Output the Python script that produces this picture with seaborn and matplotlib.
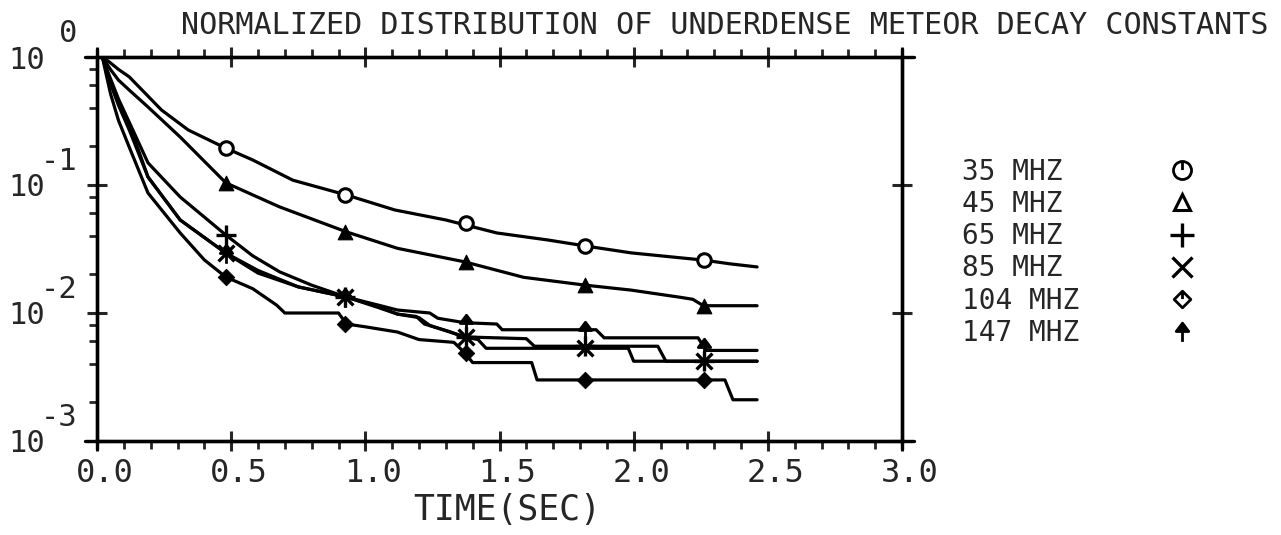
"""
Normalized distribution of underdense meteor decay constants
Re-drawn as a seaborn / matplotlib figure -> out.png
"""

import numpy as np
import pandas as pd
import matplotlib
matplotlib.use("Agg")
import matplotlib.pyplot as plt
import matplotlib.transforms as mtransforms
from matplotlib.path import Path
from matplotlib.lines import Line2D
from matplotlib.ticker import MultipleLocator, LogLocator, NullFormatter, FormatStrFormatter
import seaborn as sns

sns.set_style("ticks")
plt.rcParams.update({
    "font.family": ["DejaVu Sans Mono", "DejaVu Sans"],
    "axes.linewidth": 2.4,
    "xtick.major.width": 2.2,
    "ytick.major.width": 2.2,
    "xtick.minor.width": 2.0,
    "ytick.minor.width": 2.0,
})

# ==================== Data ====================
FREQ_LABELS = ["35 MHZ", "45 MHZ", "65 MHZ", "85 MHZ", "104 MHZ", "147 MHZ"]

T_35 = [0.02, 0.05, 0.08, 0.12, 0.18, 0.24, 0.34, 0.48, 0.58, 0.73, 0.93, 1.11, 1.30, 1.49, 1.68, 1.82, 1.99,
        2.26, 2.36, 2.46]
V_35 = [1.0, 0.90, 0.80, 0.70, 0.52, 0.386, 0.269, 0.194, 0.157, 0.109, 0.0835, 0.0638, 0.0533, 0.0422, 0.0372,
        0.0334, 0.0295, 0.0259, 0.0242, 0.0229]

T_45 = [0.02, 0.05, 0.08, 0.12, 0.19, 0.31, 0.48, 0.68, 0.93, 1.12, 1.37, 1.59, 1.82, 1.99, 2.17, 2.22, 2.26, 2.46]
V_45 = [1.0, 0.80, 0.66, 0.552, 0.407, 0.237, 0.104, 0.0675, 0.043, 0.032, 0.0251, 0.019, 0.0165, 0.0151, 0.0133,
        0.0128, 0.0114, 0.0114]

T_65 = [0.02, 0.035, 0.05, 0.08, 0.12, 0.19, 0.31, 0.48, 0.58, 0.68, 0.80, 0.93, 1.05, 1.12, 1.20, 1.24, 1.37,
        1.60, 1.63, 2.09, 2.12, 2.46]
V_65 = [1.0, 0.82, 0.68, 0.47, 0.31, 0.149, 0.0806, 0.0407, 0.028, 0.021, 0.0165, 0.0133, 0.0110, 0.0098, 0.0092,
        0.0080, 0.0065, 0.0063, 0.0055, 0.0055, 0.0042, 0.0042]

T_85 = [0.02, 0.035, 0.05, 0.08, 0.12, 0.19, 0.31, 0.48, 0.60, 0.75, 0.93, 1.05, 1.12, 1.19, 1.22, 1.31, 1.37,
        1.42, 1.45, 1.98, 2.00, 2.46]
V_85 = [1.0, 0.78, 0.62, 0.42, 0.27, 0.1155, 0.0533, 0.0294, 0.0215, 0.0160, 0.0133, 0.0112, 0.0098, 0.0094,
        0.0082, 0.0072, 0.0065, 0.0062, 0.0053, 0.0053, 0.0042, 0.0042]

T_104 = [0.02, 0.035, 0.05, 0.08, 0.12, 0.19, 0.31, 0.40, 0.48, 0.58, 0.67, 0.70, 0.90, 0.93, 1.00, 1.12, 1.20,
         1.33, 1.37, 1.40, 1.62, 1.64, 2.34, 2.37, 2.46]
V_104 = [1.0, 0.72, 0.52, 0.32, 0.198, 0.0866, 0.0422, 0.026, 0.0191, 0.0155, 0.0115, 0.0100, 0.0100, 0.0082,
         0.0078, 0.0071, 0.0062, 0.0059, 0.0049, 0.0041, 0.0041, 0.0030, 0.0030, 0.0021, 0.0021]

T_147 = [0.02, 0.035, 0.05, 0.08, 0.12, 0.19, 0.31, 0.48, 0.60, 0.75, 0.93, 1.05, 1.12, 1.24, 1.27, 1.37, 1.49,
         1.51, 1.86, 1.89, 2.24, 2.27, 2.46]
V_147 = [1.0, 0.80, 0.64, 0.45, 0.30, 0.1155, 0.0533, 0.0294, 0.0205, 0.0160, 0.0133, 0.0115, 0.01055, 0.0100,
         0.0091, 0.0084, 0.0082, 0.0074, 0.0074, 0.0064, 0.0064, 0.0051, 0.0051]

# symbol positions along each curve
MARK_T = [0.48, 0.926, 1.374, 1.819, 2.263]
MARK_35 = [0.194, 0.0835, 0.0505, 0.0334, 0.0259]
MARK_45 = [0.104, 0.043, 0.0251, 0.0165, 0.0114]
MARK_65 = [0.0407, 0.0133, 0.0065, 0.0055, 0.0042]
MARK_85 = [0.0294, 0.0133, 0.0065, 0.0053, 0.0042]
MARK_104 = [0.0191, 0.0082, 0.0049, 0.0030, 0.0030]
MARK_147 = [0.0294, 0.0133, 0.0084, 0.0074, 0.0054]

Y_TICKS = [1.0, 0.1, 0.01, 0.001]
Y_EXPONENTS = ["0", "-1", "-2", "-3"]

# ==================== Marker shapes ====================
ARROW = Path([(-0.6, 0.0), (0.6, 0.0), (0.0, 0.8), (-0.6, 0.0), (0.0, 0.0), (0.0, -1.0)],
             [Path.MOVETO, Path.LINETO, Path.LINETO, Path.CLOSEPOLY, Path.MOVETO, Path.LINETO])
STROKE = Path([(0.0, 0.05), (0.0, 1.0)], [Path.MOVETO, Path.LINETO])
CIRCLE_TICK = Path.make_compound_path(Path.unit_circle(), STROKE)
DIAMOND_TICK = Path.make_compound_path(
    Path([(0, 1), (1, 0), (0, -1), (-1, 0), (0, 1)],
         [Path.MOVETO, Path.LINETO, Path.LINETO, Path.LINETO, Path.CLOSEPOLY]), STROKE)

series = [
    (FREQ_LABELS[0], T_35, V_35, MARK_35, dict(marker="o", s=95, facecolor="white", edgecolor="black", linewidth=2.2)),
    (FREQ_LABELS[1], T_45, V_45, MARK_45, dict(marker="^", s=110, color="black", edgecolor="black")),
    (FREQ_LABELS[2], T_65, V_65, MARK_65, dict(marker="+", s=200, color="black", linewidth=2.4)),
    (FREQ_LABELS[3], T_85, V_85, MARK_85, dict(marker="x", s=130, color="black", linewidth=2.4)),
    (FREQ_LABELS[4], T_104, V_104, MARK_104, dict(marker="D", s=70, color="black", edgecolor="black")),
    (FREQ_LABELS[5], T_147, V_147, MARK_147, dict(marker=ARROW, s=220, color="black", edgecolor="black", linewidth=2)),
]

df = pd.concat([pd.DataFrame({"freq": name, "t": t, "v": v}) for name, t, v, _, _ in series],
               ignore_index=True)

# ==================== Figure ====================
fig = plt.figure(figsize=(12.81, 5.35), dpi=100)
ax = fig.add_axes([97 / 1281, 94 / 535, 805 / 1281, 384 / 535])

sns.lineplot(data=df, x="t", y="v", units="freq", estimator=None, sort=False,
             color="black", lw=2.3, ax=ax, legend=False)

for name, _, _, marks, style in series:
    sns.scatterplot(x=MARK_T, y=marks, ax=ax, zorder=5, legend=False, **style)

ax.set_yscale("log")
ax.set_xlim(0, 3.0)
ax.set_ylim(1e-3, 1.0)

# ticks: crossing majors, outward minors
ax.xaxis.set_major_locator(MultipleLocator(0.5))
ax.xaxis.set_minor_locator(MultipleLocator(0.1))
ax.xaxis.set_major_formatter(FormatStrFormatter("%.1f"))
ax.yaxis.set_major_locator(LogLocator(base=10))
ax.yaxis.set_minor_locator(LogLocator(base=10, subs=[2, 4, 6, 8]))
ax.yaxis.set_major_formatter(NullFormatter())
ax.yaxis.set_minor_formatter(NullFormatter())

ax.tick_params(axis="x", which="major", direction="inout", length=15, top=True, bottom=True,
               labelsize=23, pad=5)
ax.tick_params(axis="x", which="minor", direction="out", length=5.5, top=True, bottom=True)
ax.tick_params(axis="y", which="major", direction="inout", length=15, left=True, right=True)
ax.tick_params(axis="y", which="minor", direction="out", length=5.5, left=True, right=False)

# the plotter put the numbers a little right of their ticks
shift = mtransforms.ScaledTranslation(8 / 100, 0, fig.dpi_scale_trans)
for lbl in ax.get_xticklabels():
    lbl.set_transform(lbl.get_transform() + shift)

for sp in ax.spines.values():
    sp.set_visible(True)
    sp.set_color("black")

# axis lines run slightly past the corners
for yy in (0, 1):
    ax.plot([-0.015, 1.015], [yy, yy], transform=ax.transAxes, color="black", lw=2.4, clip_on=False)
for xx in (0, 1):
    ax.plot([xx, xx], [-0.02, 1.02], transform=ax.transAxes, color="black", lw=2.4, clip_on=False)

# y tick labels drawn as "10" with a raised exponent
for val, ex in zip(Y_TICKS, Y_EXPONENTS):
    ax.annotate("10", xy=(0, val), xycoords=("axes fraction", "data"), xytext=(-52, -3),
                textcoords="offset pixels", ha="right", va="center", fontsize=22)
    ax.annotate(ex, xy=(0, val), xycoords=("axes fraction", "data"), xytext=(-20, 15),
                textcoords="offset pixels", ha="right", va="baseline", fontsize=22)

ax.set_xlabel("TIME(SEC)", fontsize=25)
ax.xaxis.set_label_coords(0.509, -0.18)
ax.xaxis.label.set_va("center")
ax.set_ylabel("")

fig.text(725 / 1281, 1 - 25 / 535, "NORMALIZED DISTRIBUTION OF UNDERDENSE METEOR DECAY CONSTANTS",
         ha="center", va="center", fontsize=21.7)

# legend: label text first, symbol at the far right
handles = [
    Line2D([], [], ls="none", marker=CIRCLE_TICK, ms=13, mfc="white", mec="black", mew=2),
    Line2D([], [], ls="none", marker="^", ms=12, mfc="white", mec="black", mew=2.2),
    Line2D([], [], ls="none", marker="+", ms=17, color="black", mew=2.4),
    Line2D([], [], ls="none", marker="x", ms=14, color="black", mew=2.4),
    Line2D([], [], ls="none", marker=DIAMOND_TICK, ms=12, mfc="white", mec="black", mew=2),
    Line2D([], [], ls="none", marker=ARROW, ms=15, color="black", mew=2),
]
width = max(len(s) for s in FREQ_LABELS)
leg = fig.legend(handles, [s.ljust(width) for s in FREQ_LABELS], loc="upper left",
                 bbox_to_anchor=(962 / 1281, 1 - 158 / 535), frameon=False, markerfirst=False,
                 prop={"size": 20}, handlelength=1.0, handletextpad=3.2, labelspacing=0.15,
                 borderpad=0, borderaxespad=0)

fig.savefig("out.png", dpi=100)
plt.close(fig)
